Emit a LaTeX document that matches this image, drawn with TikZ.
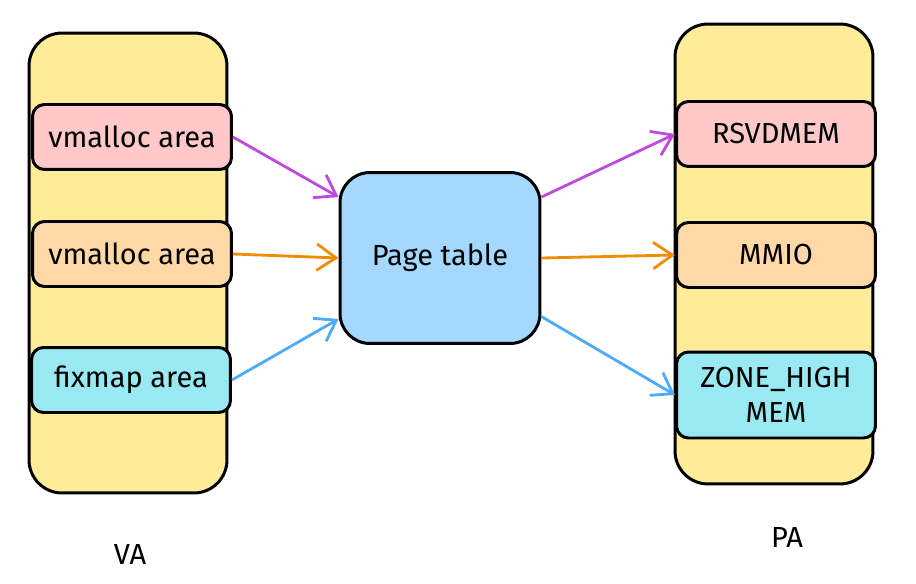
\documentclass[tikz,border=0pt]{standalone}
\usepackage{fontspec}
\setmainfont{Fira Sans}
\usetikzlibrary{arrows.meta}
\definecolor{stackfill}{HTML}{FFEC99}
\definecolor{pinkfill}{HTML}{FFC9C9}
\definecolor{orangefill}{HTML}{FFD8A8}
\definecolor{cyanfill}{HTML}{99E9F2}
\definecolor{bluefill}{HTML}{A5D8FF}
\definecolor{purplearrow}{HTML}{BE4BDB}
\definecolor{orangearrow}{HTML}{F08C00}
\definecolor{bluearrow}{HTML}{4DABF7}
\begin{document}
\begin{tikzpicture}[x=0.02cm,y=-0.02cm,
  stack/.style={draw, line width=1.7pt, fill=stackfill, rounded corners=0.66cm,
    minimum width=3.96cm, minimum height=9.2cm},
  area/.style={draw, line width=1.7pt, rounded corners=0.24cm,
    minimum width=3.98cm, minimum height=1.3cm, align=center, font=\fontsize{16.5}{20}\selectfont},
  table/.style={draw, line width=1.7pt, fill=bluefill, rounded corners=0.6cm,
    minimum width=4cm, minimum height=3.42cm, font=\fontsize{16.5}{20}\selectfont},
  map/.style={line width=1.6pt, -{Straight Barb[length=11pt,width=15pt,line width=1.6pt]}}]
  \useasboundingbox (0,0) rectangle (916,584);

  % virtual side
  \node[stack] (vastack) at (128,263) {};
  \node[area, fill=pinkfill] (va1) at (132,137) {vmalloc area};
  \node[area, fill=orangefill] (va2) at (132,254) {vmalloc area};
  \node[area, fill=cyanfill] (fixmap) at (131,380) {fixmap area};
  \node (valabel) at (130,555) {\fontsize{16.5}{20}\selectfont VA};

  % physical side
  \node[stack] (pastack) at (774,254) {};
  \node[area, fill=pinkfill] (rsvd) at (776,134) {RSVDMEM};
  \node[area, fill=orangefill] (mmio) at (776,255) {MMIO};
  \node[area, fill=cyanfill, minimum height=1.72cm] (zone) at (776,395) {ZONE\_HIGH\\MEM};
  \node (palabel) at (787,538) {\fontsize{16.5}{20}\selectfont PA};

  \node[table] (pt) at (440,258) {Page table};

  % mappings
  \draw[map, purplearrow] (va1.east) -- (pt.149);
  \draw[map, orangearrow] (va2.east) -- (pt.west);
  \draw[map, bluearrow] (fixmap.east) -- (pt.211);

  \draw[map, purplearrow] (pt.31) -- (rsvd.west);
  \draw[map, orangearrow] (pt.east) -- (mmio.west);
  \draw[map, bluearrow] (pt.330) -- (zone.west);
\end{tikzpicture}
\end{document}
